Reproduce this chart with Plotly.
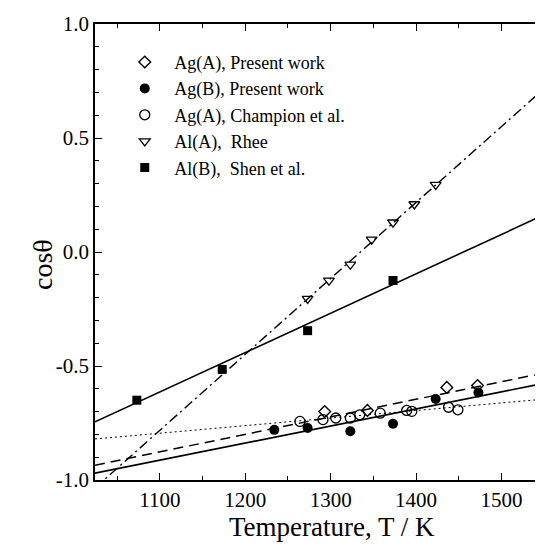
import plotly.graph_objects as go

# ---- data ----
T_agA_present = [1293, 1343, 1436, 1472]
cos_agA_present = [-0.700, -0.695, -0.594, -0.586]

T_agB_present = [1234, 1273, 1323, 1373, 1423, 1473]
cos_agB_present = [-0.780, -0.772, -0.786, -0.753, -0.645, -0.616]

T_agA_champion = [1264, 1291, 1306, 1323, 1334, 1358, 1389, 1395, 1438, 1449]
cos_agA_champion = [-0.743, -0.735, -0.728, -0.728, -0.714, -0.707, -0.695, -0.699, -0.681, -0.692]

T_alA_rhee = [1273, 1298, 1323, 1348, 1373, 1398, 1423]
cos_alA_rhee = [-0.205, -0.125, -0.055, 0.055, 0.130, 0.210, 0.295]

T_alB_shen = [1073, 1173, 1273, 1373]
cos_alB_shen = [-0.650, -0.515, -0.345, -0.125]

# fitted lines (end values)
fit_T = [1024, 1551]
fit_agA = [-0.935, -0.530]
fit_agB = [-0.970, -0.575]
fit_champion = [-0.820, -0.645]
fit_alA = [-1.035, 0.720]
fit_alB = [-0.745, 0.165]

x_ticks = [1100, 1200, 1300, 1400, 1500]
y_tickvals = [-1.0, -0.5, 0.0, 0.5, 1.0]
y_ticktext = ["-1.0", "-0.5", "0.0", "0.5", "1.0"]

FONT = "Liberation Serif, Times New Roman, serif"

fig = go.Figure()

# fit lines
line_specs = [
    (fit_agA, "10px,6px", 1.5),
    (fit_agB, "solid", 1.6),
    (fit_champion, "2px,3px", 1.0),
    (fit_alA, "10px,4px,2px,4px", 1.4),
    (fit_alB, "solid", 1.6),
]
for ys, dash, w in line_specs:
    fig.add_trace(go.Scatter(x=fit_T, y=ys, mode="lines", showlegend=False,
                             line=dict(color="black", width=w, dash=dash),
                             hoverinfo="skip"))

# data markers
fig.add_trace(go.Scatter(x=T_agA_present, y=cos_agA_present, mode="markers",
                         name="Ag(A), Present work",
                         marker=dict(symbol="diamond-open", size=9, color="black",
                                     line=dict(width=1.4, color="black"))))
fig.add_trace(go.Scatter(x=T_agB_present, y=cos_agB_present, mode="markers",
                         name="Ag(B), Present work",
                         marker=dict(symbol="circle", size=10, color="black")))
fig.add_trace(go.Scatter(x=T_agA_champion, y=cos_agA_champion, mode="markers",
                         name="Ag(A), Champion et al.",
                         marker=dict(symbol="circle-open", size=10, color="black",
                                     line=dict(width=1.3, color="black"))))
fig.add_trace(go.Scatter(x=T_alA_rhee, y=cos_alA_rhee, mode="markers",
                         name="Al(A),  Rhee",
                         marker=dict(symbol="triangle-down-open", size=9.5, color="black",
                                     line=dict(width=1.3, color="black"))))
fig.add_trace(go.Scatter(x=T_alB_shen, y=cos_alB_shen, mode="markers",
                         name="Al(B),  Shen et al.",
                         marker=dict(symbol="square", size=9, color="black")))

fig.update_layout(
    width=543, height=548,
    margin=dict(l=87, r=6, t=16, b=76),
    paper_bgcolor="white", plot_bgcolor="white",
    font=dict(family=FONT, color="black", size=21),
    showlegend=True,
    legend=dict(x=0.045, y=0.9566, xanchor="left", yanchor="top",
                bgcolor="rgba(0,0,0,0)", borderwidth=0,
                font=dict(family=FONT, size=18, color="black"),
                itemwidth=49, tracegroupgap=0),
    xaxis=dict(range=[1024, 1551], tickvals=x_ticks, ticks="inside", ticklen=7,
               tickwidth=1.2, tickcolor="black", automargin=False,
               showline=True, linecolor="black", linewidth=1.5, mirror="ticks",
               showgrid=False, zeroline=False,
               minor=dict(tickmode="linear", tick0=1050, dtick=100, ticks="inside",
                          ticklen=4, tickcolor="black", showgrid=False),
               tickfont=dict(family=FONT, size=21)),
    yaxis=dict(range=[-1.0, 1.0], tickvals=y_tickvals, ticktext=y_ticktext,
               ticks="inside", ticklen=7, tickwidth=1.2, tickcolor="black",
               automargin=False,
               showline=True, linecolor="black", linewidth=1.5, mirror="ticks",
               showgrid=False, zeroline=False,
               minor=dict(tickmode="linear", tick0=0, dtick=0.1, ticks="inside",
                          ticklen=4, tickcolor="black", showgrid=False),
               tickfont=dict(family=FONT, size=21)),
    annotations=[
        dict(text="Temperature, T / K", xref="paper", yref="paper",
             x=0.5267, y=-0.1031, xanchor="center", yanchor="middle",
             showarrow=False, font=dict(family=FONT, size=27, color="black")),
        dict(text="cosθ", xref="paper", yref="paper",
             x=-0.1156, y=0.4737, xanchor="center", yanchor="middle",
             textangle=-90, showarrow=False,
             font=dict(family=FONT, size=28, color="black")),
    ],
)

fig.write_html("out.html")
